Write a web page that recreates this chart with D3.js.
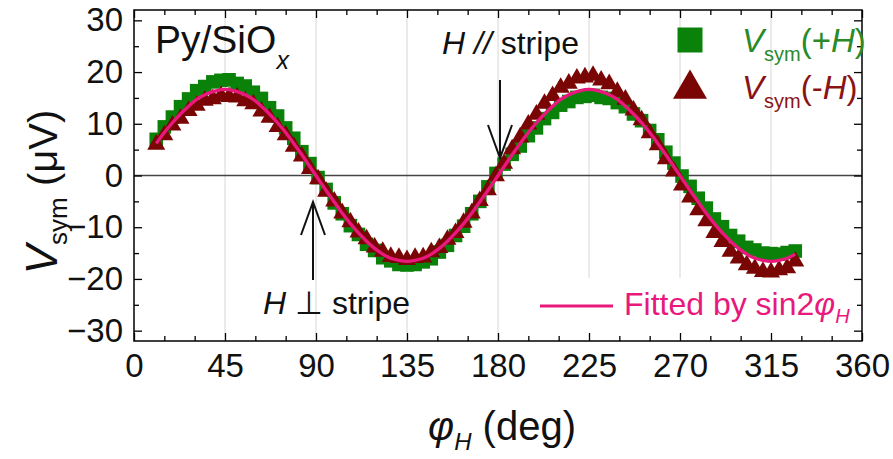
<!DOCTYPE html>
<html>
<head>
<meta charset="utf-8">
<script src="https://cdn.jsdelivr.net/npm/d3@7"></script>
<style>
  body { margin: 0; background: #fff; }
  svg { font-family: "Liberation Sans", Arial, sans-serif; }
</style>
</head>
<body>
<svg width="893" height="459"></svg>
<script>
// angle of the field (deg)
var angles = [11,15,19,23,27,31,35,39,43,47,51,55,59,63,67,71,75,79,83,87,
              91,95,99,103,107,111,115,119,123,127,131,135,139,143,147,151,155,159,163,167,
              171,175,179,183,187,191,195,199,203,207,211,215,219,223,227,231,235,239,243,247,
              251,255,259,263,267,271,275,279,283,287,291,295,299,303,307,311,315,319,323,327];

// Vsym(+H), uV
var vPlus = [7.0,9.4,11.3,13.3,14.8,16.4,17.2,18.1,18.4,18.5,
             17.8,17.3,16.1,14.9,13.1,11.5,9.2,7.2,4.6,2.3,
             -0.4,-2.7,-5.3,-7.4,-9.7,-11.4,-13.3,-14.5,-15.9,-16.5,
             -17.2,-17.3,-17.2,-16.7,-16.1,-14.8,-13.5,-11.6,-9.8,-7.4,
             -5.0,-2.2,0.4,2.2,4.1,5.7,7.7,9.2,11.0,12.2,
             13.6,14.3,15.1,15.3,15.5,15.1,14.9,14.1,13.3,11.9,
             10.6,8.7,6.9,4.5,2.4,-0.1,-2.1,-4.4,-6.3,-8.4,
             -9.9,-11.6,-12.7,-13.9,-14.4,-15.0,-15.1,-15.2,-14.9,-14.6];

// Vsym(-H), uV
var vMinus = [6.0,7.8,9.7,11.0,12.5,13.5,14.5,14.8,15.4,15.2,
              15.1,14.4,13.8,12.4,11.2,9.4,7.8,5.6,3.7,1.3,
              -0.7,-3.1,-5.0,-7.3,-9.0,-11.0,-12.3,-13.9,-14.7,-15.7,
              -15.9,-16.3,-15.9,-15.8,-14.8,-14.0,-12.4,-11.1,-9.1,-7.3,
              -4.9,-2.8,-0.1,2.3,5.1,7.4,9.9,11.8,13.9,15.4,
              17.0,17.8,18.8,19.0,19.3,18.4,17.7,16.2,14.7,12.6,
              10.7,8.2,5.9,3.2,0.8,-1.9,-4.2,-6.7,-8.8,-11.1,
              -12.8,-14.7,-16.0,-17.3,-18.0,-18.6,-18.7,-18.3,-17.9,-16.6];

// fitted curve
var vFit = [6.2,8.3,10.2,11.9,13.4,14.7,15.6,16.2,16.6,16.6,
            16.2,15.6,14.7,13.4,11.9,10.2,8.3,6.2,4.0,1.7,
            -0.6,-2.9,-5.1,-7.3,-9.3,-11.1,-12.7,-14.1,-15.2,-16.0,
            -16.4,-16.6,-16.4,-16.0,-15.2,-14.1,-12.7,-11.1,-9.3,-7.3,
            -5.1,-2.9,-0.6,1.7,4.0,6.2,8.3,10.2,11.9,13.4,
            14.7,15.6,16.2,16.6,16.6,16.2,15.6,14.7,13.4,11.9,
            10.2,8.3,6.2,4.0,1.7,-0.6,-2.9,-5.1,-7.3,-9.3,
            -11.1,-12.7,-14.1,-15.2,-16.0,-16.4,-16.6,-16.4,-16.0,-15.2];

var xTicks = [0,45,90,135,180,225,270,315,360];
var yTicks = [-30,-20,-10,0,10,20,30];
var gridAngles = [45,90,135,180,225,270,315];

var svg = d3.select("svg"),
    pl = 134, pr = 862, pt = 10, pb = 341;

var x = d3.scaleLinear().domain([0, 360]).range([pl, pr]);
var y = d3.scaleLinear().domain([-32, 32]).range([pb, pt]);

var green = "#0a820a", maroon = "#7a0505", pink = "#e8187d";

// gridlines
svg.append("g").selectAll("line")
   .data(gridAngles).enter().append("line")
   .attr("x1", function(d){ return x(d); }).attr("x2", function(d){ return x(d); })
   .attr("y1", pt).attr("y2", pb)
   .attr("stroke", "#d6d6d6").attr("stroke-width", 1);

// white box behind the fit legend
svg.append("rect").attr("x", 525).attr("y", 278).attr("width", pr - 525).attr("height", pb - 278)
   .attr("fill", "#fff");

// zero line
svg.append("line").attr("x1", pl).attr("x2", pr).attr("y1", y(0)).attr("y2", y(0))
   .attr("stroke", "#444").attr("stroke-width", 1.3);

// axes
var minorX = d3.range(0, 361, 15).filter(function(d){ return d % 45 != 0; });
var minorY = d3.range(-30, 31, 5).filter(function(d){ return d % 10 != 0; });

function styleAxis(g) {
  g.select(".domain").remove();
  g.selectAll("line").attr("stroke", "#000").attr("stroke-width", 1.3);
}

svg.append("g").attr("transform", "translate(0," + pb + ")")
   .call(d3.axisBottom(x).tickValues(xTicks).tickSizeInner(-8).tickSizeOuter(0).tickPadding(13))
   .call(styleAxis)
   .selectAll("text").attr("font-size", 33).attr("fill", "#111")
   .attr("font-family", "Liberation Sans, Arial, sans-serif");
svg.append("g").attr("transform", "translate(0," + pb + ")")
   .call(d3.axisBottom(x).tickValues(minorX).tickSizeInner(-5).tickSizeOuter(0).tickFormat(""))
   .call(styleAxis);
svg.append("g").attr("transform", "translate(0," + pt + ")")
   .call(d3.axisTop(x).tickValues(xTicks).tickSizeInner(-8).tickSizeOuter(0).tickFormat(""))
   .call(styleAxis);
svg.append("g").attr("transform", "translate(0," + pt + ")")
   .call(d3.axisTop(x).tickValues(minorX).tickSizeInner(-5).tickSizeOuter(0).tickFormat(""))
   .call(styleAxis);

svg.append("g").attr("transform", "translate(" + pl + ",0)")
   .call(d3.axisLeft(y).tickValues(yTicks).tickSizeInner(-8).tickSizeOuter(0).tickPadding(11))
   .call(styleAxis)
   .selectAll("text").attr("font-size", 33).attr("fill", "#111")
   .attr("font-family", "Liberation Sans, Arial, sans-serif");
svg.append("g").attr("transform", "translate(" + pl + ",0)")
   .call(d3.axisLeft(y).tickValues(minorY).tickSizeInner(-5).tickSizeOuter(0).tickFormat(""))
   .call(styleAxis);
svg.append("g").attr("transform", "translate(" + pr + ",0)")
   .call(d3.axisRight(y).tickValues(yTicks).tickSizeInner(-8).tickSizeOuter(0).tickFormat(""))
   .call(styleAxis);
svg.append("g").attr("transform", "translate(" + pr + ",0)")
   .call(d3.axisRight(y).tickValues(minorY).tickSizeInner(-5).tickSizeOuter(0).tickFormat(""))
   .call(styleAxis);

// frame
svg.append("rect").attr("x", pl).attr("y", pt).attr("width", pr - pl).attr("height", pb - pt)
   .attr("fill", "none").attr("stroke", "#000").attr("stroke-width", 1.5);

// data
var square = d3.symbol().type(d3.symbolSquare).size(185);
var tri = d3.symbol().type(d3.symbolTriangle).size(140);

svg.append("g").selectAll("path")
   .data(angles).enter().append("path")
   .attr("d", square)
   .attr("transform", function(d, i){ return "translate(" + x(d) + "," + y(vPlus[i]) + ")"; })
   .attr("fill", green);

svg.append("g").selectAll("path")
   .data(angles).enter().append("path")
   .attr("d", tri)
   .attr("transform", function(d, i){ return "translate(" + x(d) + "," + y(vMinus[i]) + ")"; })
   .attr("fill", maroon);

var fitLine = d3.line()
   .x(function(d){ return x(d); })
   .y(function(d, i){ return y(vFit[i]); })
   .curve(d3.curveCatmullRom);

svg.append("path").datum(angles)
   .attr("d", fitLine)
   .attr("fill", "none").attr("stroke", pink).attr("stroke-width", 3.4);

// axis titles
var yt = svg.append("text").attr("transform", "translate(57,192) rotate(-90)")
   .attr("text-anchor", "middle").attr("fill", "#111");
yt.append("tspan").attr("font-style", "italic").attr("font-size", 44).text("V");
yt.append("tspan").attr("font-size", 26).attr("dy", 10).text("sym");
yt.append("tspan").attr("font-size", 40).attr("dy", -10).text(" (\u03bcV)");

var xt = svg.append("text").attr("x", 502).attr("y", 440)
   .attr("text-anchor", "middle").attr("fill", "#111");
xt.append("tspan").attr("font-style", "italic").attr("font-size", 40).text("\u03c6");
xt.append("tspan").attr("font-style", "italic").attr("font-size", 24).attr("dy", 10).text("H");
xt.append("tspan").attr("font-size", 40).attr("dy", -10).text(" (deg)");

// sample label
var py = svg.append("text").attr("x", 155).attr("y", 53).attr("fill", "#111");
py.append("tspan").attr("font-size", 39).text("Py/SiO");
py.append("tspan").attr("font-size", 25).attr("font-style", "italic").attr("dy", 16).text("x");

// annotations
var a1 = svg.append("text").attr("x", 442).attr("y", 54).attr("font-size", 32).attr("fill", "#111");
a1.append("tspan").attr("font-style", "italic").text("H //");
a1.append("tspan").text(" stripe");

var a2 = svg.append("text").attr("x", 263).attr("y", 314).attr("font-size", 32).attr("fill", "#111");
a2.append("tspan").attr("font-style", "italic").text("H");
a2.append("tspan").text(" \u22a5 stripe");

function arrow(x0, y0, y1) {
  var dir = y1 > y0 ? -1 : 1;
  svg.append("line").attr("x1", x0).attr("x2", x0).attr("y1", y0).attr("y2", y1)
     .attr("stroke", "#111").attr("stroke-width", 2);
  svg.append("path")
     .attr("d", "M" + (x0 - 12) + "," + (y1 + dir * 33) + "L" + x0 + "," + y1 + "L" + (x0 + 12) + "," + (y1 + dir * 33))
     .attr("fill", "none").attr("stroke", "#111").attr("stroke-width", 2);
}
arrow(500, 80, 158);
arrow(313, 280, 202);

// legend
svg.append("path").attr("d", d3.symbol().type(d3.symbolSquare).size(625))
   .attr("transform", "translate(690,40)").attr("fill", green);
svg.append("path").attr("d", d3.symbol().type(d3.symbolTriangle).size(500))
   .attr("transform", "translate(690,89)").attr("fill", maroon);

var l1 = svg.append("text").attr("x", 742).attr("y", 52).attr("fill", "#2a8a2a").attr("font-size", 33);
l1.append("tspan").attr("font-style", "italic").text("V");
l1.append("tspan").attr("font-size", 20).attr("dy", 9).text("sym");
l1.append("tspan").attr("dy", -9).text("(+");
l1.append("tspan").attr("font-style", "italic").text("H");
l1.append("tspan").text(")");

var l2 = svg.append("text").attr("x", 742).attr("y", 99).attr("fill", "#8a1414").attr("font-size", 33);
l2.append("tspan").attr("font-style", "italic").text("V");
l2.append("tspan").attr("font-size", 20).attr("dy", 9).text("sym");
l2.append("tspan").attr("dy", -9).text("(-");
l2.append("tspan").attr("font-style", "italic").text("H");
l2.append("tspan").text(")");

svg.append("line").attr("x1", 540).attr("x2", 613).attr("y1", 306).attr("y2", 306)
   .attr("stroke", pink).attr("stroke-width", 3);
var l3 = svg.append("text").attr("x", 624).attr("y", 315).attr("fill", pink).attr("font-size", 32);
l3.append("tspan").text("Fitted by sin2");
l3.append("tspan").attr("font-style", "italic").text("\u03c6");
l3.append("tspan").attr("font-style", "italic").attr("font-size", 20).attr("dy", 8).text("H");
</script>
</body>
</html>
